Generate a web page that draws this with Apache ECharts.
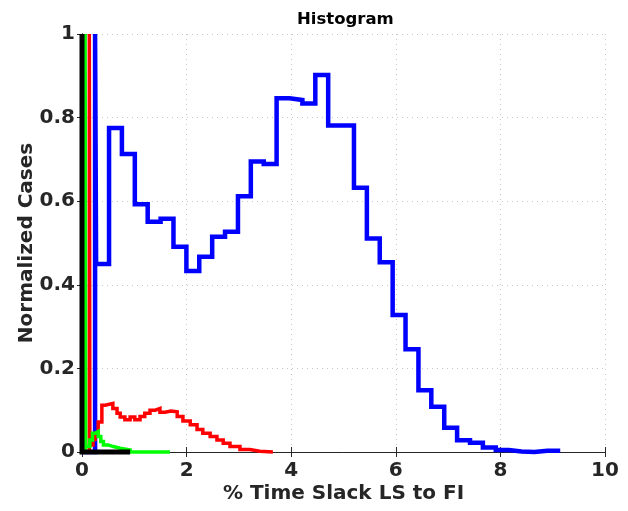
<!DOCTYPE html>
<html>
<head>
<meta charset="utf-8">
<script src="https://cdn.jsdelivr.net/npm/echarts@6/dist/echarts.min.js"></script>
<style>html,body{margin:0;padding:0;background:#fff}#c{width:628px;height:511px}</style>
</head>
<body>
<div id="c"></div>
<script>
const xTicks = [0, 2, 4, 6, 8, 10];
const yTickLabels = ['0', '0.2', '0.4', '0.6', '0.8', '1'];

const blueX = [0, 0.25, 0.27, 0.517, 0.763, 1.01, 1.256, 1.503, 1.749, 1.996, 2.242, 2.489, 2.735, 2.982, 3.228, 3.475, 3.721, 3.968, 4.214, 4.461, 4.707, 4.954, 5.2, 5.447, 5.693, 5.94, 6.186, 6.433, 6.679, 6.926, 7.172, 7.419, 7.665, 7.912, 8.158, 8.405, 8.651, 8.898, 9.144];
const blueY = [0, 1, 0.45, 0.775, 0.713, 0.593, 0.551, 0.558, 0.491, 0.433, 0.467, 0.515, 0.527, 0.612, 0.695, 0.689, 0.846, 0.842, 0.834, 0.902, 0.781, 0.781, 0.632, 0.511, 0.454, 0.328, 0.246, 0.148, 0.108, 0.058, 0.028, 0.022, 0.011, 0.005, 0.001, 0.0, 0.003, 0.003, 0.003];

const redX = [0, 0.14, 0.15, 0.21, 0.25, 0.31, 0.38, 0.44, 0.59, 0.67, 0.73, 0.82, 0.92, 1.01, 1.11, 1.2, 1.3, 1.4, 1.49, 1.59, 1.7, 1.82, 1.93, 2.07, 2.2, 2.31, 2.45, 2.58, 2.7, 2.83, 3.02, 3.21, 3.4, 3.65];
const redY = [0, 1, 0.017, 0.03, 0.045, 0.072, 0.112, 0.116, 0.104, 0.093, 0.084, 0.077, 0.084, 0.077, 0.085, 0.093, 0.1, 0.104, 0.095, 0.098, 0.096, 0.085, 0.074, 0.065, 0.054, 0.045, 0.037, 0.029, 0.021, 0.013, 0.006, 0.002, 0, 0];

const greenX = [0, 0.06, 0.07, 0.15, 0.2, 0.25, 0.31, 0.36, 0.41, 0.5, 0.6, 0.73, 0.92, 1.68];
const greenY = [0, 1, 0.013, 0.029, 0.045, 0.049, 0.037, 0.025, 0.017, 0.013, 0.009, 0.005, 0, 0];

const blackX = [0, 0, 0.92];
const blackY = [1, 0, 0];

const zip = (xs, ys) => xs.map((x, i) => [x, ys[i]]);
const FONT = 'DejaVu Sans';
const axisColor = '#262626';

const baseX = {
  type: 'value', min: 0, max: 10, interval: 2,
  axisLine: {show: true, lineStyle: {color: axisColor, width: 1}},
  axisTick: {show: true, inside: true, length: 5, lineStyle: {color: axisColor}},
  splitLine: {show: false}
};
const baseY = {
  type: 'value', min: 0, max: 1, interval: 0.2,
  axisLine: {show: true, lineStyle: {color: axisColor, width: 1}},
  axisTick: {show: true, inside: true, length: 5, lineStyle: {color: axisColor}},
  splitLine: {show: false}
};

const mk = (name, xs, ys, color, w) => ({
  name, type: 'line', step: 'end', data: zip(xs, ys), showSymbol: false, symbol: 'none',
  clip: false, lineStyle: {color, width: w, join: 'miter', cap: 'butt'}, animation: false
});

const chart = echarts.init(document.getElementById('c'), null, {renderer: 'canvas'});
chart.setOption({
  backgroundColor: '#fff',
  animation: false,
  title: {
    text: 'Histogram', left: 292, top: 6,
    textStyle: {fontFamily: FONT, fontWeight: 'bold', fontSize: 16.5, color: '#000'}
  },
  grid: {left: 82, right: 23, top: 34, bottom: 59},
  xAxis: [
    Object.assign({}, baseX, {
      position: 'bottom',
      name: '% Time Slack LS to FI', nameLocation: 'middle', nameGap: 32, nameMoveOverlap: false,
      nameTextStyle: {fontFamily: FONT, fontWeight: 'bold', fontSize: 20, color: axisColor},
      axisLabel: {show: true, margin: 9, fontFamily: FONT, fontWeight: 'bold', fontSize: 20, color: axisColor,
        formatter: v => String(xTicks[xTicks.indexOf(v)])},
      splitLine: {show: true, lineStyle: {color: '#c8c8c8', type: [1, 4], width: 1}}
    }),
    Object.assign({}, baseX, {position: 'top', axisLabel: {show: false}})
  ],
  yAxis: [
    Object.assign({}, baseY, {
      position: 'left',
      name: 'Normalized Cases', nameLocation: 'middle', nameGap: 45, nameMoveOverlap: false,
      nameTextStyle: {fontFamily: FONT, fontWeight: 'bold', fontSize: 20, color: axisColor},
      axisLabel: {show: true, margin: 7, fontFamily: FONT, fontWeight: 'bold', fontSize: 20, color: axisColor,
        formatter: v => yTickLabels[Math.round(v * 5)]},
      splitLine: {show: true, lineStyle: {color: '#c8c8c8', type: [1, 4], width: 1}}
    }),
    Object.assign({}, baseY, {position: 'right', axisLabel: {show: false}})
  ],
  series: [
    mk('blue', blueX, blueY, '#0000ff', 4.5),
    mk('red', redX, redY, '#ff0000', 3.5),
    mk('green', greenX, greenY, '#00ff00', 3.5),
    mk('black', blackX, blackY, '#000000', 5)
  ]
});
</script>
</body>
</html>
